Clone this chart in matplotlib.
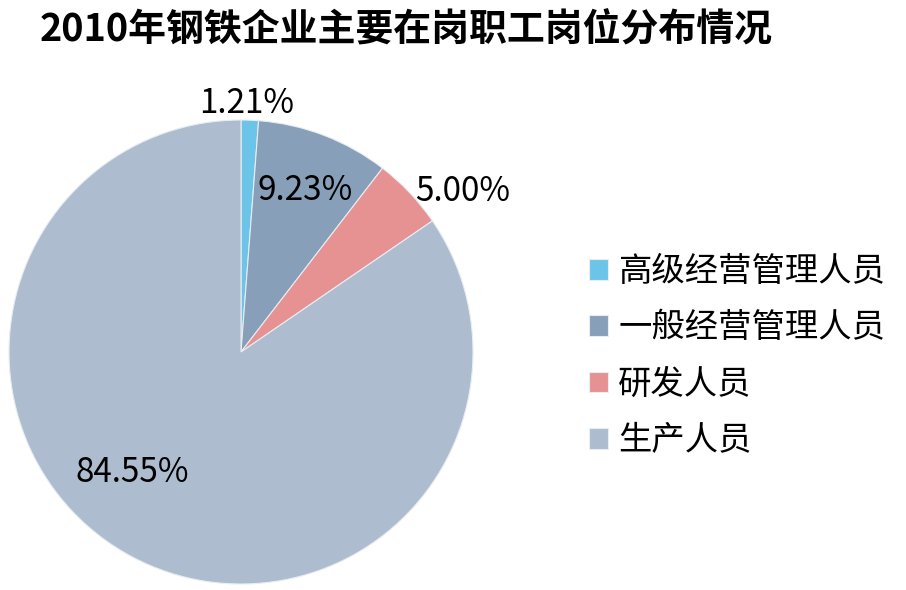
import matplotlib
matplotlib.use("Agg")
import matplotlib.pyplot as plt
import numpy as np

plt.rcParams['font.family'] = ['Noto Sans CJK SC', 'DejaVu Sans']

title = "2010年钢铁企业主要在岗职工岗位分布情况"
categories = ["高级经营管理人员", "一般经营管理人员", "研发人员", "生产人员"]
values = [1.21, 9.23, 5.00, 84.55]
colors = ["#6CC5E8", "#879FB8", "#E69293", "#ADBDCF"]

# label placement (radius fraction, angle deg, ha)
label_pos = [(1.07, 88.6, 'center'), (0.75, 68.4, 'center'), (1.02, 42.8, 'left'), (0.70, -131.9, 'center')]

fig = plt.figure(figsize=(9.06, 5.90), dpi=100)
ax = fig.add_axes([241/906 - 232/906, 1 - (352 + 232)/590, 464/906, 464/590])
wedges, _ = ax.pie(values, colors=colors, startangle=90, counterclock=False,
                   wedgeprops=dict(edgecolor='#E8EDF2', linewidth=0.8))
ax.set_xlim(-1, 1)
ax.set_ylim(-1, 1)
ax.set_aspect('equal')

for v, (r, a, ha) in zip(values, label_pos):
    t = np.deg2rad(a)
    ax.text(r*np.cos(t), r*np.sin(t), f"{v:.2f}%", ha=ha, va='center',
            fontsize=24, color='black', clip_on=False)

fig.text(40/906, 1 - 30/590, title, ha='left', va='center', fontsize=27.3,
         fontweight='bold')

leg = fig.legend(wedges, categories, loc='upper left', bbox_to_anchor=(589/906, 1 - 254/590),
                 frameon=False, fontsize=24, handlelength=0.58, handleheight=0.58,
                 handletextpad=0.3, labelspacing=0.64, borderpad=0, borderaxespad=0)

fig.savefig("out.png", dpi=100)
